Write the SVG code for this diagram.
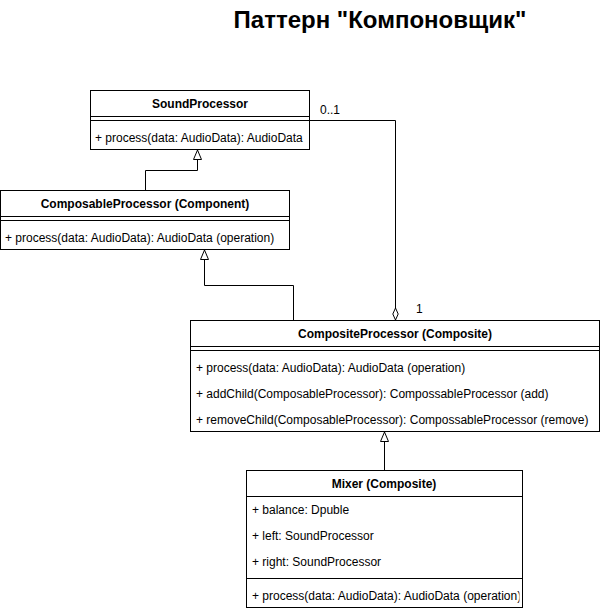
<svg xmlns="http://www.w3.org/2000/svg" width="601" height="612" viewBox="0 0 601 612">
<style>
.box{fill:#fff;stroke:#000;stroke-width:1}
.ln{stroke:#000;stroke-width:1;fill:none}
.t{font-family:"Liberation Sans",Arial,sans-serif;font-size:12px;fill:#000}
.h{font-family:"Liberation Sans",Arial,sans-serif;font-size:12px;font-weight:bold;fill:#000;text-anchor:middle}
.title{font-family:"Liberation Sans",Arial,sans-serif;font-size:24px;font-weight:bold;fill:#000;text-anchor:middle}
</style>
<defs>
<marker id="tri" viewBox="0 0 10 10" refX="10" refY="5" markerWidth="10" markerHeight="10" markerUnits="userSpaceOnUse" orient="auto">
<path d="M0.5,1 L10,5 L0.5,9 Z" fill="#fff" stroke="#000" stroke-width="1"/>
</marker>
<marker id="dia" viewBox="0 0 13 7" refX="12.5" refY="3.5" markerWidth="13" markerHeight="7" markerUnits="userSpaceOnUse" orient="auto">
<path d="M0.5,3.5 L6.5,0.8 L12.5,3.5 L6.5,6.2 Z" fill="#fff" stroke="#000" stroke-width="1"/>
</marker>
<clipPath id="mixclip"><rect x="246" y="470" width="273.5" height="138"/></clipPath>
</defs>
<rect width="601" height="612" fill="#fff"/>
<text class="title" x="380" y="28">Паттерн "Компоновщик"</text>

<g id="connectors">
<path class="ln" d="M145.5,190 L145.5,170.5 L197.5,170.5 L197.5,150" marker-end="url(#tri)"/>
<path class="ln" d="M293.5,320 L293.5,285.5 L204.5,285.5 L204.5,250" marker-end="url(#tri)"/>
<path class="ln" d="M384.5,470 L384.5,432" marker-end="url(#tri)"/>
<path class="ln" d="M310,120.5 L395.5,120.5 L395.5,320" marker-end="url(#dia)"/>
<text class="t" x="320" y="114">0..1</text>
<text class="t" x="416" y="313">1</text>
</g>

<g id="SoundProcessor">
<rect class="box" x="90.5" y="90.5" width="219" height="59"/>
<line class="ln" x1="90.5" y1="116.5" x2="309.5" y2="116.5"/>
<line class="ln" x1="90.5" y1="120.5" x2="309.5" y2="120.5"/>
<text class="h" x="200" y="107.5">SoundProcessor</text>
<text class="t" x="95" y="142">+ process(data: AudioData): AudioData</text>
</g>

<g id="ComposableProcessor">
<rect class="box" x="0.5" y="190.5" width="289" height="59"/>
<line class="ln" x1="0.5" y1="216.5" x2="289.5" y2="216.5"/>
<line class="ln" x1="0.5" y1="220.5" x2="289.5" y2="220.5"/>
<text class="h" x="145" y="207.5">ComposableProcessor (Component)</text>
<text class="t" x="5" y="242">+ process(data: AudioData): AudioData (operation)</text>
</g>

<g id="CompositeProcessor">
<rect class="box" x="190.5" y="320.5" width="409" height="111"/>
<line class="ln" x1="190.5" y1="346.5" x2="599.5" y2="346.5"/>
<line class="ln" x1="190.5" y1="350.5" x2="599.5" y2="350.5"/>
<text class="h" x="395" y="337.5">CompositeProcessor (Composite)</text>
<text class="t" x="196" y="372">+ process(data: AudioData): AudioData (operation)</text>
<text class="t" x="196" y="398">+ addChild(ComposableProcessor): CompossableProcessor (add)</text>
<text class="t" x="196" y="424">+ removeChild(ComposableProcessor): CompossableProcessor (remove)</text>
</g>

<g id="Mixer">
<rect class="box" x="246.5" y="470.5" width="276" height="137"/>
<line class="ln" x1="246.5" y1="496.5" x2="522.5" y2="496.5"/>
<line class="ln" x1="246.5" y1="578.5" x2="522.5" y2="578.5"/>
<text class="h" x="384" y="487.5">Mixer (Composite)</text>
<g clip-path="url(#mixclip)">
<text class="t" x="252" y="514">+ balance: Dpuble</text>
<text class="t" x="252" y="540">+ left: SoundProcessor</text>
<text class="t" x="252" y="566">+ right: SoundProcessor</text>
<text class="t" x="252" y="600">+ process(data: AudioData): AudioData (operation)</text>
</g>
</g>
</svg>
